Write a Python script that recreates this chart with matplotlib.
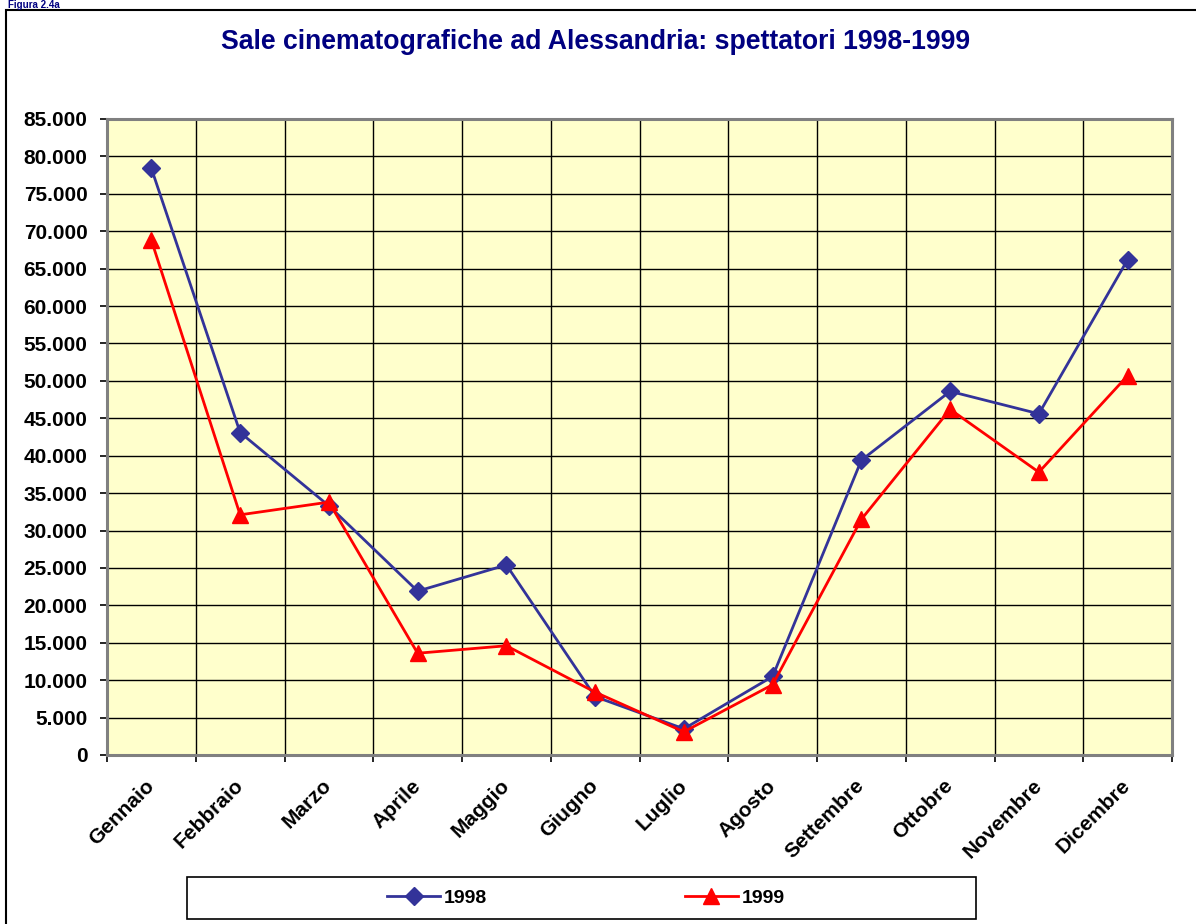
import matplotlib.pyplot as plt
import matplotlib.ticker as mticker
from matplotlib.patches import Rectangle
import numpy as np

plt.rcParams['font.family'] = ['Liberation Sans', 'DejaVu Sans']

mesi = ['Gennaio', 'Febbraio', 'Marzo', 'Aprile', 'Maggio', 'Giugno',
        'Luglio', 'Agosto', 'Settembre', 'Ottobre', 'Novembre', 'Dicembre']
spett_1998 = [78400, 43100, 33300, 21900, 25400, 7800,
              3500, 10500, 39400, 48600, 45600, 66200]
spett_1999 = [68800, 32100, 33800, 13600, 14600, 8400,
              3100, 9400, 31500, 46200, 37800, 50700]

fig = plt.figure(figsize=(11.96, 9.24), dpi=100)
ax = fig.add_axes([107 / 1196, 1 - 755 / 924, (1172 - 107) / 1196, (755 - 119) / 924])
ax.set_facecolor('#FFFFCC')

x = np.arange(len(mesi))
ax.plot(x, spett_1998, color='#333399', lw=2.0, marker='D', markersize=9, label='1998', zorder=3)
ax.plot(x, spett_1999, color='#FF0000', lw=2.0, marker='^', markersize=11, label='1999', zorder=3)

ax.set_xlim(-0.5, len(mesi) - 0.5)
ax.set_ylim(0, 85000)
ax.yaxis.set_major_locator(mticker.MultipleLocator(5000))
ax.yaxis.set_major_formatter(mticker.FuncFormatter(lambda v, p: f'{int(v):,}'.replace(',', '.')))

ax.set_xticks(x)
ax.set_xticklabels(mesi, rotation=45, ha='right', va='center', rotation_mode='anchor',
                   fontsize=15, fontweight='bold')
ax.set_xticks(np.arange(-0.5, len(mesi)), minor=True)
ax.tick_params(axis='x', which='major', length=0, pad=20)
ax.tick_params(axis='x', which='minor', length=5, width=1.2, color='black')
ax.tick_params(axis='y', length=5, width=1.2, labelsize=15, pad=9)
for lab in ax.get_yticklabels():
    lab.set_fontweight('bold')

ax.grid(True, axis='y', which='major', color='black', lw=1.0)
ax.grid(True, axis='x', which='minor', color='black', lw=1.0)
ax.set_axisbelow(True)
for s in ax.spines.values():
    s.set_color('#808080')
    s.set_linewidth(2.2)

fig.text(596 / 1196, 1 - 42 / 924, 'Sale cinematografiche ad Alessandria: spettatori 1998-1999',
         ha='center', va='center', fontsize=19.2, fontweight='bold', color='#000080')
fig.text(8 / 1196, 1 - 0 / 924, 'Figura 2.4a', ha='left', va='top',
         fontsize=7, fontweight='bold', color='#000080')

# outer chart frame
fig.add_artist(Rectangle((6 / 1196, -0.05), 1.1, 1 - 10 / 924 + 0.05,
                         transform=fig.transFigure, fill=False, ec='black', lw=1.5))
# legend box
fig.add_artist(Rectangle((187 / 1196, 1 - 919 / 924), (976 - 187) / 1196, 42 / 924,
                         transform=fig.transFigure, fill=False, ec='black', lw=1.2))
fig.legend(loc='center', bbox_to_anchor=(586 / 1196, 1 - 898 / 924), ncol=2, frameon=False,
           prop={'weight': 'bold', 'size': 14}, handlelength=2.7, handletextpad=0.2,
           columnspacing=10.2)

fig.savefig('out.png', dpi=100)
